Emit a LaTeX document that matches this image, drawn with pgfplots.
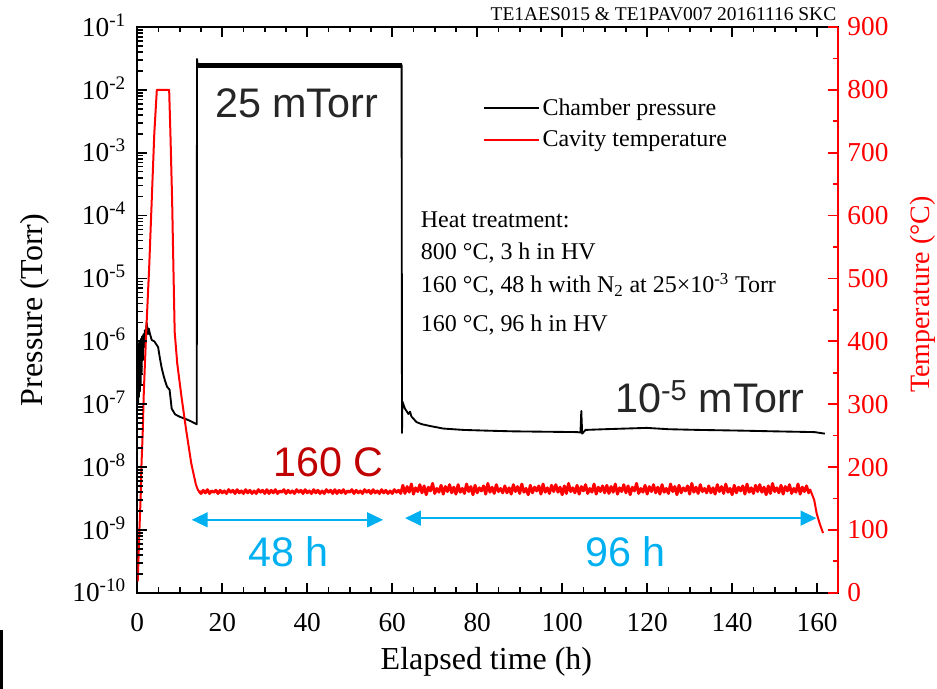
\documentclass[border=0pt]{standalone}
\usepackage{fontspec}
\setmainfont{Liberation Serif}
\newfontfamily\arial{Liberation Sans}
\usepackage{pgfplots}
\pgfplotsset{compat=1.18}
\usetikzlibrary{arrows.meta}
\definecolor{dred}{RGB}{192,0,0}
\definecolor{acyan}{RGB}{0,176,240}
\definecolor{dgray}{RGB}{38,38,38}
\newcommand{\tickfont}{\fontsize{20.5}{23}\selectfont}
\newcommand{\legfont}{\fontsize{18}{21}\selectfont}
\newcommand{\bigfont}{\arial\fontsize{31}{36}\selectfont}
\pgfplotsset{
  base/.style={scale only axis, width=526pt, height=424.5pt, xmin=0, xmax=165,
    at={(0pt,0pt)}, anchor=south west,
    ticklabel style={font=\tickfont},
    tick style={draw=none},
    axis line style={line width=1.6pt}},
}
\begin{document}
\begin{tikzpicture}
\begin{axis}[base, name=ax1,
  ymode=log, ymin=1e-10, ymax=1e-1,
  xticklabel pos=lower,
  xtick={0,20,40,60,80,100,120,140,160}, xticklabels={0,20,40,60,80,100,120,140,160},
  ytick={1e-10,1e-9,1e-8,1e-7,1e-6,1e-5,1e-4,1e-3,1e-2,1e-1},
  yticklabels={10\textsuperscript{-10},10\textsuperscript{-9},10\textsuperscript{-8},10\textsuperscript{-7},10\textsuperscript{-6},10\textsuperscript{-5},10\textsuperscript{-4},10\textsuperscript{-3},10\textsuperscript{-2},10\textsuperscript{-1}},
  yticklabel pos=left,
  xticklabel style={yshift=-12pt},
  yticklabel style={anchor=base east, yshift=-6.9pt, xshift=-5pt},
  xlabel={Elapsed time (h)}, ylabel={Pressure (Torr)},
  xlabel style={font=\fontsize{24}{28}\selectfont, at={(axis description cs:0.498,-0.136)}, anchor=base},
  ylabel style={font=\fontsize{24}{28}\selectfont, at={(axis description cs:-0.135,0.5)}, anchor=base},
  legend style={draw=none, fill=none, at={(0.493,0.879)}, anchor=north west,
    font=\legfont, inner sep=0pt, row sep=6.5pt,
    /tikz/every even column/.append style={column sep=6pt}},
  legend cell align=left,
  legend image code/.code={\draw[#1] (0pt,0pt) -- (41pt,0pt);},
]
\addplot[black, line width=4pt, forget plot] coordinates {(14.1,2.45e-2)(62.2,2.45e-2)};
\addplot[black, line width=1.4pt, line join=round] coordinates {
(0.02,1.2e-7)(0.1,7e-7)(0.2,1.0e-7)(0.3,9e-7)(0.4,1.3e-7)(0.5,1.0e-6)(0.6,1.6e-7)(0.7,8e-7)(0.8,2.0e-7)(0.9,1.1e-6)(1.0,3e-7)(1.15,1.2e-6)(1.3,5e-7)(1.45,1.3e-6)(1.6,8e-7)(1.8,1.5e-6)(2.0,1.2e-6)(2.2,2.0e-6)(2.5,1.3e-6)(2.7,1.6e-6)(3.0,1.3e-6)(3.4,1.05e-6)(4.0,1.0e-6)(4.4,9.1e-7)(4.9,8.1e-7)(5.3,5.5e-7)(5.7,3.9e-7)(6.1,3.0e-7)(6.5,2.4e-7)(7.0,1.9e-7)(7.6,1.7e-7)(8.1,8.5e-8)(8.9,6.9e-8)(10.0,6.3e-8)(11.2,5.9e-8)(12.5,5.4e-8)(14.0,4.8e-8)(14.05,3.1e-2)(14.2,2.5e-2)(62.2,2.5e-2)(62.3,3.5e-8)(62.4,1.1e-7)(63,8.5e-8)(63.8,7.0e-8)(64.2,7.6e-8)(64.5,6.4e-8)(65.7,5.2e-8)(67,4.8e-8)(68.9,4.5e-8)(72,4.1e-8)(76.7,3.9e-8)(82,3.8e-8)(88.5,3.7e-8)(96,3.65e-8)(103.5,3.6e-8)(104.3,3.55e-8)(104.5,7.8e-8)(104.7,3.4e-8)(105.5,3.9e-8)(110,4.0e-8)(115,4.1e-8)(119.9,4.2e-8)(125,4.0e-8)(132,3.9e-8)(142,3.8e-8)(150,3.7e-8)(159.4,3.6e-8)(161.8,3.4e-8)};
\addlegendentry{Chamber pressure}
\addlegendimage{red, line width=1.5pt}
\addlegendentry{Cavity temperature}
\end{axis}
\begin{axis}[base,
  ymin=0, ymax=900,
  axis x line=none, axis y line*=right, yticklabel pos=right,
  ytick={0,100,200,300,400,500,600,700,800,900},
  yticklabels={0,100,200,300,400,500,600,700,800,900},
  y axis line style={red, line width=1.6pt},
  yticklabel style={red, xshift=3.3pt},
  ylabel={Temperature (°C)},
  ylabel style={red, font=\fontsize{21}{25}\selectfont, at={(axis description cs:1.130,0.527)}, anchor=base},
]
\addplot[red, line width=1.5pt, line join=round] coordinates {
(0.1,18)(0.25,47)(0.5,100)(0.8,153)(1.0,206)(1.3,259)(1.5,312)(1.8,365)(2.1,415)(2.8,518)(3.4,624)(4.0,730)(4.6,800)(7.5,800)(7.8,730)(8.2,624)(8.5,518)(8.8,415)(9.4,365)(10.4,312)(11.5,259)(12.7,206)(13.8,172)(14.3,163)(14.5,162)};
\addplot[red, line width=2.2pt, line join=round] coordinates {
(14.5,162)(15,158)(15.5,163)(16,159)(16.5,164)(17,158)(17.5,162)(18,160)(18.5,163)(19,158)(19.5,163)(20,159)(20.5,162)(21,158)(21.5,164)(22,160)
(22.5,163)(23,158)(23.5,164)(24,159)(24.5,162)(25,158)(25.5,164)(26,159)(26.5,163)(27,158)(27.5,162)(28,158)(28.5,164)(29,160)(29.5,163)(30,158)
(30.5,164)(31,158)(31.5,163)(32,159)(32.5,164)(33,158)(33.5,162)(34,160)(34.5,164)(35,158)(35.5,163)(36,159)(36.5,162)(37,158)(37.5,164)(38,160)
(38.5,163)(39,158)(39.5,164)(40,159)(40.5,162)(41,158)(41.5,164)(42,159)(42.5,163)(43,158)(43.5,162)(44,158)(44.5,164)(45,160)(45.5,163)(46,158)
(46.5,164)(47,158)(47.5,163)(48,159)(48.5,164)(49,158)(49.5,162)(50,160)(50.5,164)(51,158)(51.5,163)(52,159)(52.5,162)(53,158)(53.5,164)(54,160)
(54.5,163)(55,158)(55.5,164)(56,159)(56.5,162)(57,158)(57.5,164)(58,159)(58.5,163)(59,158)(59.5,162)(60,158)(60.5,164)(61,160)(61.5,163)(62,158)
(62.5,171)(63,158)(63.5,169)(64,160)(64.5,173)(65,157)(65.5,167)(66,161)(66.5,172)(67,159)(67.5,170)(68,156)(68.5,168)(69,162)(69.5,174)(70,158)(70.5,166)(71,160)(71.5,171)(72,157)(72.5,169)(73,161)(73.5,172)(74,159)
(74.5,168)(75,157)(75.5,172)(76,160)(76.5,166)(77,158)(77.5,173)(78,161)(78.5,169)(79,156)(79.5,171)(80,159)(80.5,167)(81,162)(81.5,170)(82,157)(82.5,174)(83,160)(83.5,168)(84,158)(84.5,172)(85,161)(85.5,166)(86,159)
(86.5,170)(87,159)(87.5,167)(88,157)(88.5,172)(89,161)(89.5,169)(90,158)(90.5,173)(91,160)(91.5,166)(92,156)(92.5,171)(93,159)(93.5,168)(94,162)(94.5,170)(95,157)(95.5,173)(96,160)(96.5,167)(97,158)(97.5,171)(98,161)
(98.5,172)(99,160)(99.5,168)(100,156)(100.5,170)(101,158)(101.5,174)(102,161)(102.5,167)(103,159)(103.5,171)(104,157)(104.5,169)(105,162)(105.5,172)(106,158)(106.5,166)(107,160)(107.5,173)(108,157)(108.5,168)(109,161)(109.5,170)(110,159)
(110.5,171)(111,158)(111.5,169)(112,160)(112.5,173)(113,157)(113.5,167)(114,161)(114.5,172)(115,159)(115.5,170)(116,156)(116.5,168)(117,162)(117.5,174)(118,158)(118.5,166)(119,160)(119.5,171)(120,157)(120.5,169)(121,161)(121.5,172)(122,159)
(122.5,168)(123,157)(123.5,172)(124,160)(124.5,166)(125,158)(125.5,173)(126,161)(126.5,169)(127,156)(127.5,171)(128,159)(128.5,167)(129,162)(129.5,170)(130,157)(130.5,174)(131,160)(131.5,168)(132,158)(132.5,172)(133,161)(133.5,166)(134,159)
(134.5,170)(135,159)(135.5,167)(136,157)(136.5,172)(137,161)(137.5,169)(138,158)(138.5,173)(139,160)(139.5,166)(140,156)(140.5,171)(141,159)(141.5,168)(142,162)(142.5,170)(143,157)(143.5,173)(144,160)(144.5,167)(145,158)(145.5,171)(146,161)
(146.5,172)(147,160)(147.5,168)(148,156)(148.5,170)(149,158)(149.5,174)(150,161)(150.5,167)(151,159)(151.5,171)(152,157)(152.5,169)(153,162)(153.5,172)(154,158)(154.5,166)(155,160)(155.5,173)(156,157)(156.5,168)(157,161)(157.5,170)(158,159)(158.3,165)};
\addplot[red, line width=1.5pt, line join=round] coordinates {(158.3,165)(159.3,148)(159.9,126)(160.7,108)(161.4,95)};
\end{axis}
% axis ticks as thin filled bars on the axis frame (frame 526pt x 424.5pt, lower left at origin)
\foreach \x in {0,20,40,60,80,100,120,140,160} {
  \fill[black] ({\x*3.187879pt-0.65pt},0pt) rectangle ({\x*3.187879pt+0.65pt},7.5pt);
  \fill[black] ({\x*3.187879pt-0.65pt},417pt) rectangle ({\x*3.187879pt+0.65pt},424.5pt);
}
\foreach \x in {5,10,15,25,30,35,45,50,55,65,70,75,85,90,95,105,110,115,125,130,135,145,150,155} {
  \fill[black] ({\x*3.187879pt-0.65pt},0pt) rectangle ({\x*3.187879pt+0.65pt},4pt);
  \fill[black] ({\x*3.187879pt-0.65pt},420.5pt) rectangle ({\x*3.187879pt+0.65pt},424.5pt);
}
\foreach \k in {0,1,2,3,4,5,6,7,8,9} {
  \fill[black] (0pt,{\k*47.16667pt-0.65pt}) rectangle (7.5pt,{\k*47.16667pt+0.65pt});
  \fill[red] (518.5pt,{\k*47.16667pt-0.65pt}) rectangle (526pt,{\k*47.16667pt+0.65pt});
}
\foreach \k in {0,1,2,3,4,5,6,7,8} {
  \fill[red] (522pt,{(\k+0.5)*47.16667pt-0.65pt}) rectangle (526pt,{(\k+0.5)*47.16667pt+0.65pt});
  \foreach \m in {2,3,4,5,6,7,8,9} {
    \fill[black] (0pt,{(\k+ln(\m)/2.302585)*47.16667pt-0.6pt}) rectangle (4.5pt,{(\k+ln(\m)/2.302585)*47.16667pt+0.6pt});
  }
}
\node[anchor=base east, inner sep=0pt, font=\fontsize{14.6}{17}\selectfont] at (524.6pt,429pt) {TE1AES015 \& TE1PAV007 20161116 SKC};
\node[anchor=base west, inner sep=0pt, font=\bigfont, text=dgray] at (58.2pt,356.25pt) {25 mTorr};
\node[anchor=base west, inner sep=0pt, font=\bigfont, text=dgray] at (358.3pt,135pt) {10\textsuperscript{-5} mTorr};
\node[anchor=base west, inner sep=0pt, font=\bigfont, text=dred] at (101.8pt,87.2pt) {160 C};
\node[anchor=base west, inner sep=0pt, font=\bigfont, text=acyan] at (83pt,19.7pt) {48 h};
\node[anchor=base west, inner sep=0pt, font=\bigfont, text=acyan] at (335.8pt,19.7pt) {96 h};
\draw[acyan, line width=1.8pt, {Triangle[length=12pt,width=11pt]}-{Triangle[length=12pt,width=11pt]}] (40.8pt,54.75pt) -- (184.5pt,54.75pt);
\draw[acyan, line width=1.8pt, {Triangle[length=12pt,width=11pt]}-{Triangle[length=12pt,width=11pt]}] (200.8pt,56pt) -- (509.6pt,56pt);
\node[anchor=base west, inner sep=0pt, font=\legfont] at (212.6pt,273.75pt) {Heat treatment:};
\node[anchor=base west, inner sep=0pt, font=\legfont] at (212.6pt,249.75pt) {800 °C, 3 h in HV};
\node[anchor=base west, inner sep=0pt, font=\legfont] at (212.6pt,225pt) {160 °C, 48 h with N\textsubscript{2} at 25×10\textsuperscript{-3} Torr};
\node[anchor=base west, inner sep=0pt, font=\legfont] at (212.6pt,195.75pt) {160 °C, 96 h in HV};
\fill[black] (-103pt,-72pt) rectangle (-100.75pt,-27.75pt);
\pgfresetboundingbox
\path[use as bounding box] (-103pt,-72pt) rectangle (600pt,444.75pt);
\end{tikzpicture}
\end{document}
